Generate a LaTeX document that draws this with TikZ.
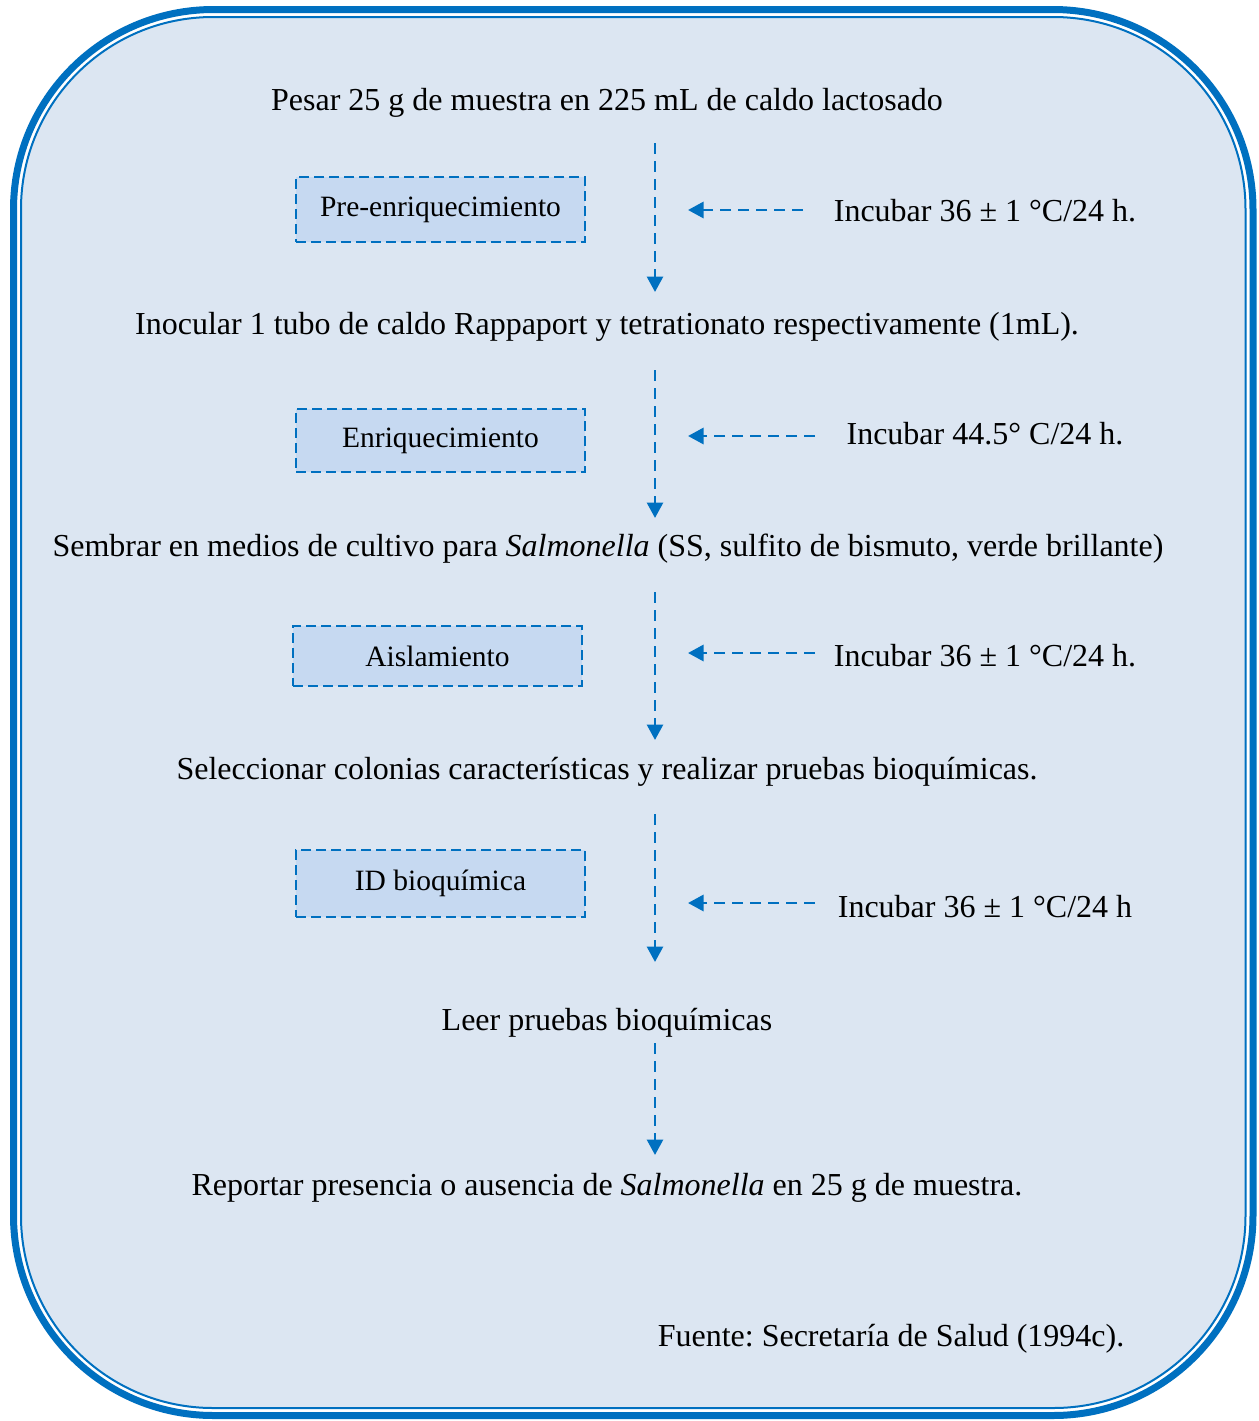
\documentclass[tikz,border=0pt]{standalone}
\usepackage{fontspec}
\setmainfont{Liberation Serif}
\usetikzlibrary{arrows.meta}
\frenchspacing
\definecolor{frameblue}{HTML}{0070C0}
\definecolor{panelfill}{HTML}{DCE6F2}
\definecolor{stagefill}{HTML}{C6D9F1}
\tikzset{
  flow/.style={draw=frameblue, line width=1.15pt, dash pattern=on 4.4pt off 2.8pt,
    -{Triangle[length=6.2pt,width=6.4pt]}},
  stage/.style={draw=frameblue, fill=stagefill, line width=0.95pt,
    dash pattern=on 4pt off 2pt, minimum width=115.6pt,
    font=\fontsize{11.8}{14}\selectfont},
  steptext/.style={anchor=base, inner sep=0pt, font=\fontsize{12.8}{15}\selectfont}
}
\begin{document}
\begin{tikzpicture}[x=0.4pt, y=-0.4pt]
\useasboundingbox (0,0) rectangle (1259,1421);
\def\ax{655}
\def\hx{688}
% frame
\fill[white] (0,0) rectangle (1259,1421);
\draw[frameblue, line width=2.8pt, rounded corners=80pt] (13.5,9.5) rectangle (1253,1415.5);
\draw[frameblue, fill=panelfill, line width=0.8pt, rounded corners=76.8pt] (21,17) rectangle (1245.5,1408);
% steps
\node[steptext] (pesar) at (607,110) {Pesar 25 g de muestra en 225 mL de caldo lactosado};
\node[steptext] (inocular) at (607,334) {Inocular 1 tubo de caldo Rappaport y tetrationato respectivamente (1mL).};
\node[steptext] (sembrar) at (608,556) {Sembrar en medios de cultivo para \textit{Salmonella} (SS, sulfito de bismuto, verde brillante)};
\node[steptext] (selec) at (607,779) {Seleccionar colonias características y realizar pruebas bioquímicas.};
\node[steptext] (leer) at (607,1030) {Leer pruebas bioquímicas};
\node[steptext] (reportar) at (607,1195) {Reportar presencia o ausencia de \textit{Salmonella} en 25 g de muestra.};
\node[steptext] (fuente) at (891,1346) {Fuente: Secretaría de Salud (1994c).};
% incubation
\node[steptext] (inc1) at (985,221) {Incubar 36 ± 1 °C/24 h.};
\node[steptext] (inc2) at (985,444) {Incubar 44.5° C/24 h.};
\node[steptext] (inc3) at (985,666) {Incubar 36 ± 1 °C/24 h.};
\node[steptext] (inc4) at (985,917) {Incubar 36 ± 1 °C/24 h};
% stages
\node[stage, minimum height=26pt] (pre) at (440.5,209.5) {Pre-enriquecimiento};
\node[stage, minimum height=25.2pt] (enr) at (440.5,440.5) {Enriquecimiento};
\node[stage, minimum height=24pt] (ais) at (437.5,656) {Aislamiento};
\node[stage, minimum height=26.8pt] (idb) at (440.5,883.5) {ID bioquímica};
% arrow ends
\coordinate (v1a) at (\ax,143);  \coordinate (v1b) at (\ax,292);
\coordinate (v2a) at (\ax,370);  \coordinate (v2b) at (\ax,518);
\coordinate (v3a) at (\ax,592);  \coordinate (v3b) at (\ax,740);
\coordinate (v4a) at (\ax,814);  \coordinate (v4b) at (\ax,962);
\coordinate (v5a) at (\ax,1043); \coordinate (v5b) at (\ax,1155);
\coordinate (h1a) at (803,210);  \coordinate (h1b) at (\hx,210);
\coordinate (h2a) at (815,436);  \coordinate (h2b) at (\hx,436);
\coordinate (h3a) at (815,653);  \coordinate (h3b) at (\hx,653);
\coordinate (h4a) at (815,903);  \coordinate (h4b) at (\hx,903);
\foreach \i in {1,...,5}
  \draw[flow] (v\i a) -- (v\i b);
\foreach \i in {1,...,4}
  \draw[flow] (h\i a) -- (h\i b);
\end{tikzpicture}
\end{document}
